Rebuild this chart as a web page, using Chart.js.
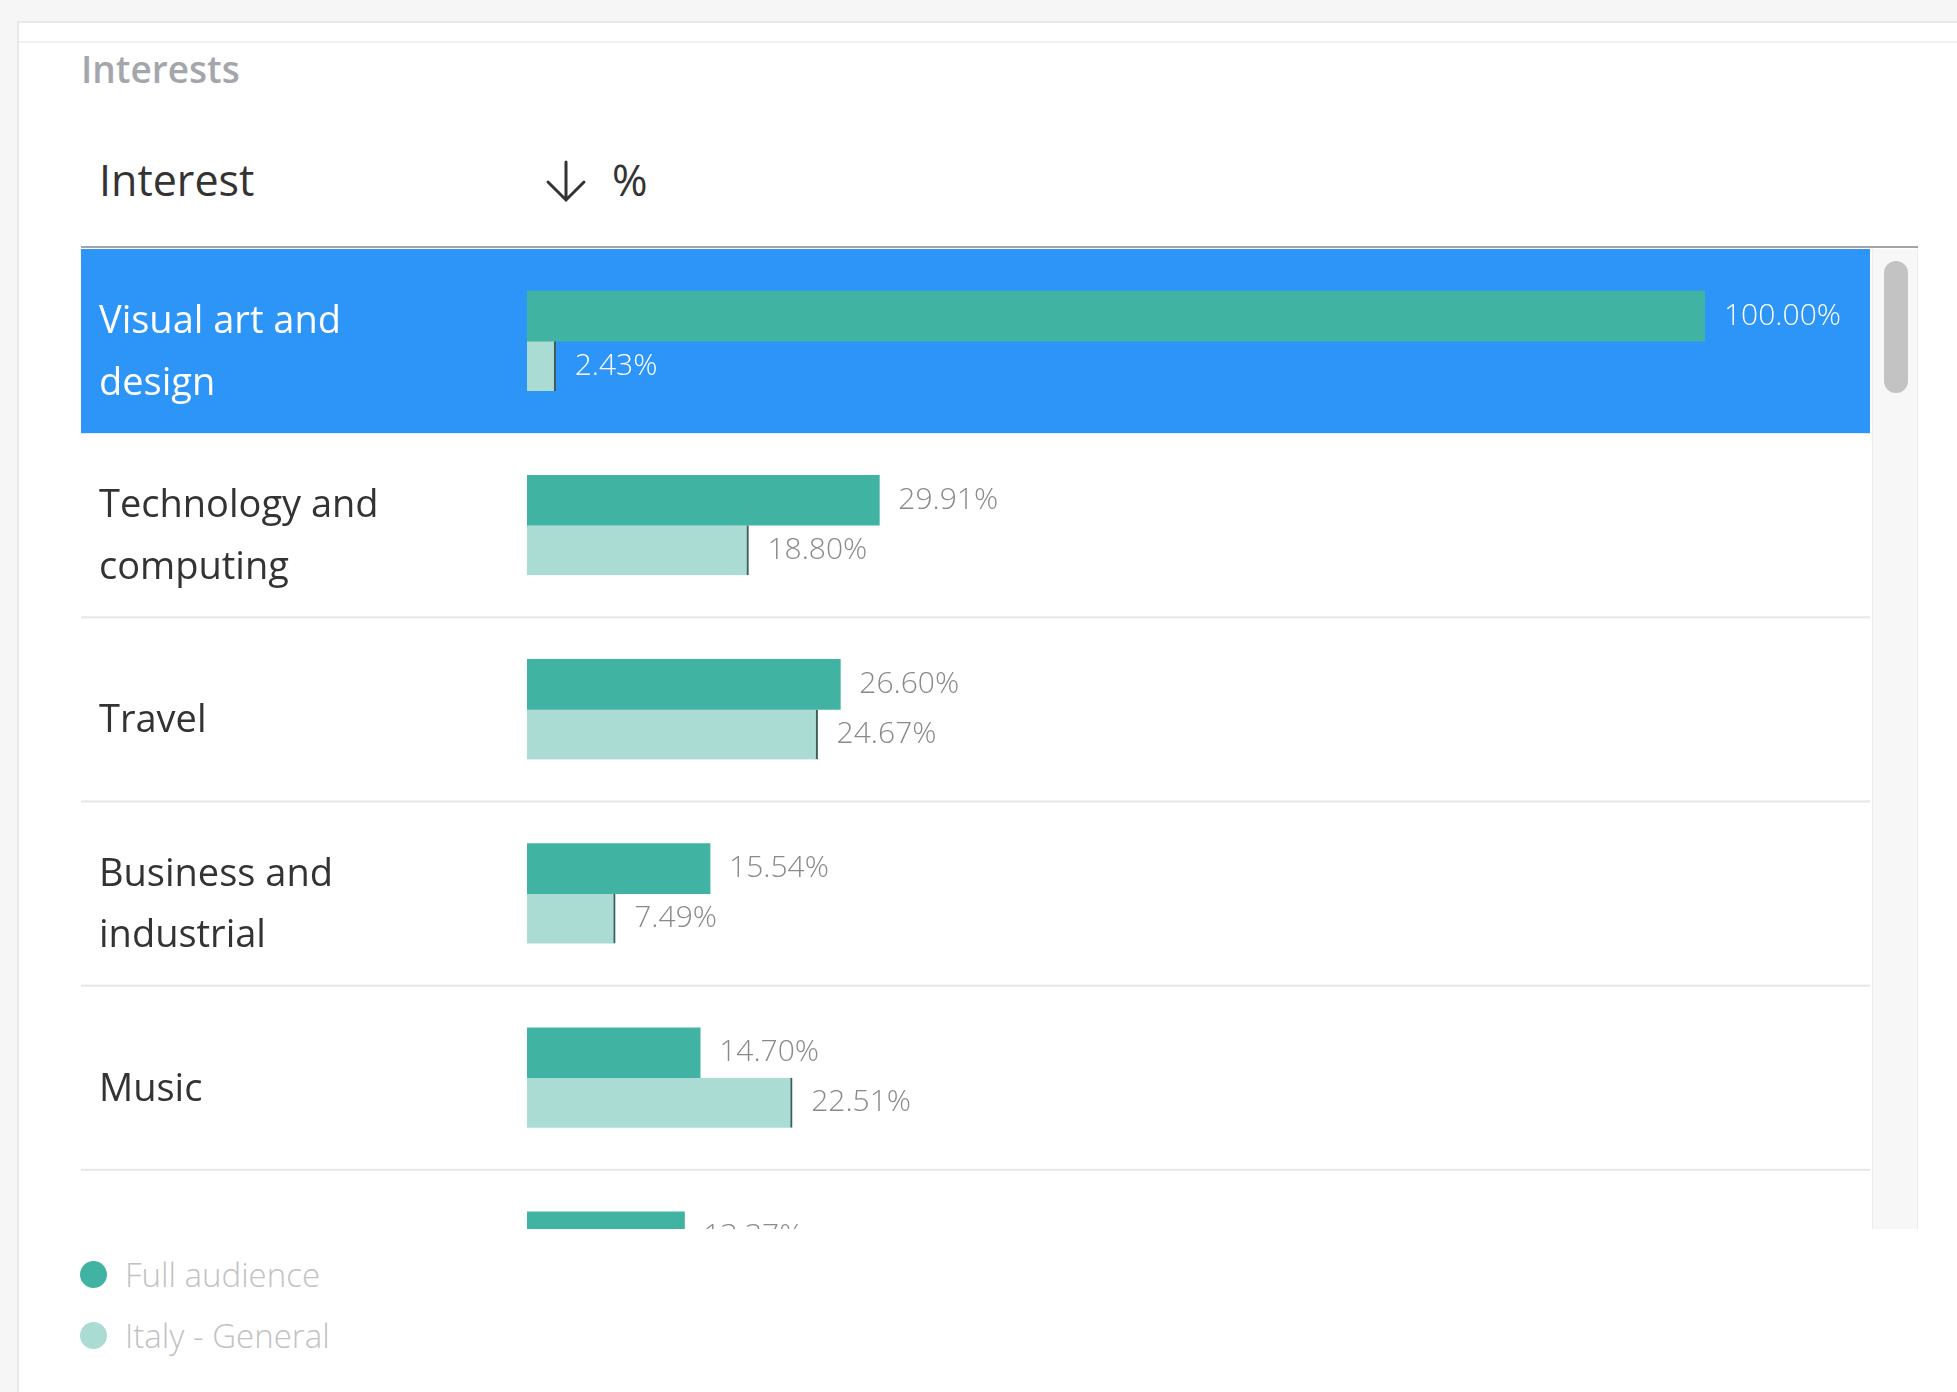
<!DOCTYPE html>
<html lang="en">
<head>
  <meta charset="utf-8" />
  <title>Interests</title>
  <script src="https://cdn.jsdelivr.net/npm/chart.js"></script>
  <style>
    html, body { margin: 0; padding: 0; }
    body {
      width: 1957px;
      height: 1392px;
      background: #f6f6f6;
      font-family: 'Open Sans', sans-serif;
      position: relative;
      overflow: hidden;
    }
    .card {
      position: absolute;
      left: 17px; top: 21px;
      width: 2000px; height: 1400px;
      background: #fff;
      border: 2px solid #e9e9e9;
    }
    .card-strip {
      position: absolute;
      left: 19px; right: 0; top: 41px;
      border-top: 2px solid #f1f1f1;
    }
    .title {
      position: absolute;
      left: 81px; top: 46px;
      font-size: 37px; line-height: 46px;
      font-weight: 600;
      color: #a3a7ab;
    }
    .head {
      position: absolute;
      top: 153px;
      font-size: 43px; line-height: 54px;
      color: #333;
    }
    .head-arrow { position: absolute; left: 543px; top: 158px; }
    .head-line {
      position: absolute;
      left: 81px; top: 246px;
      width: 1837px; height: 2px;
      background: #a4a4a4;
    }
    .table-view {
      position: absolute;
      left: 81px; top: 249px;
      width: 1789px; height: 980px;
      overflow: hidden;
    }
    .chart-box { position: relative; width: 1789px; height: 1105px; }
    .scroll-track {
      position: absolute;
      left: 1872px; top: 249px;
      width: 44px; height: 980px;
      background: #f7f7f7;
      border-left: 1px solid #ececec;
      border-right: 1px solid #ececec;
    }
    .scroll-thumb {
      position: absolute;
      left: 11px; top: 12px;
      width: 24px; height: 132px;
      border-radius: 12px;
      background: #c3c3c3;
    }
    .legend { position: absolute; left: 80px; top: 1244px; }
    .legend-item {
      display: flex; align-items: center;
      height: 61px;
      font-size: 33px; font-weight: 300;
      color: #c2c2c2;
    }
    .legend-dot {
      width: 27px; height: 27px;
      border-radius: 50%;
      margin-right: 18px;
    }
  </style>
</head>
<body>
  <div class="card"></div>
  <div class="card-strip"></div>
  <div class="title">Interests</div>
  <div class="head" style="left: 99px;">Interest</div>
  <svg class="head-arrow" width="46" height="46" viewBox="0 0 46 46" fill="none" stroke="#333" stroke-width="3" stroke-linecap="round">
    <path d="M23 4 L23 42 M5 24 L23 42 L41 24" />
  </svg>
  <div class="head" style="left: 612px;">%</div>
  <div class="head-line"></div>

  <div class="table-view">
    <div class="chart-box"><canvas id="interests-chart"></canvas></div>
  </div>
  <div class="scroll-track"><div class="scroll-thumb"></div></div>

  <div class="legend" id="legend"></div>

  <script>
    const categories = [
      ['Visual art and', 'design'],
      ['Technology and', 'computing'],
      ['Travel'],
      ['Business and', 'industrial'],
      ['Music'],
      ''
    ];
    const fullAudience = [100.00, 29.91, 26.60, 15.54, 14.70, 13.37];
    const italyGeneral = [2.43, 18.80, 24.67, 7.49, 22.51, null];
    const seriesNames = ['Full audience', 'Italy - General'];
    const seriesColors = ['#41b3a3', '#aadcd4'];

    const selectedRow = 0;

    // selected row background + thin separators between the other rows
    const rowBands = {
      id: 'rowBands',
      beforeDraw(chart) {
        const { ctx, scales: { y } } = chart;
        const band = (y.bottom - y.top) / categories.length;
        ctx.save();
        categories.forEach((_, i) => {
          const top = y.getPixelForValue(i) - band / 2;
          if (i === selectedRow) {
            ctx.fillStyle = '#2d95f7';
            ctx.fillRect(0, top, chart.width, band);
          } else if (i !== selectedRow + 1) {
            ctx.fillStyle = '#e6e6e6';
            ctx.fillRect(0, top - 1, chart.width, 2);
          }
        });
        ctx.restore();
      }
    };

    // percentage text right after each bar
    const valueLabels = {
      id: 'valueLabels',
      afterDatasetsDraw(chart) {
        const { ctx } = chart;
        ctx.save();
        ctx.font = '300 30px "Open Sans"';
        ctx.textBaseline = 'middle';
        chart.data.datasets.forEach((ds, di) => {
          chart.getDatasetMeta(di).data.forEach((bar, i) => {
            const v = ds.data[i];
            if (v == null) return;
            ctx.fillStyle = i === selectedRow ? '#ffffff' : '#8a8a8a';
            ctx.fillText(v.toFixed(2) + '%', bar.x + 19, bar.y);
          });
        });
        ctx.restore();
      }
    };

    new Chart(document.getElementById('interests-chart').getContext('2d'), {
      type: 'bar',
      data: {
        labels: categories,
        datasets: [{
          label: seriesNames[0],
          data: fullAudience,
          backgroundColor: seriesColors[0],
          borderWidth: 0
        }, {
          label: seriesNames[1],
          data: italyGeneral,
          backgroundColor: seriesColors[1],
          borderColor: '#3d5f5b',
          borderWidth: { top: 0, right: 2, bottom: 0, left: 0 },
          borderSkipped: false
        }]
      },
      options: {
        indexAxis: 'y',
        responsive: true,
        maintainAspectRatio: false,
        animation: false,
        barThickness: 50,
        layout: { padding: { left: 18, right: 165, top: 0, bottom: 0 } },
        scales: {
          x: { display: false, min: 0, max: 100 },
          y: {
            grid: { display: false },
            border: { display: false },
            afterFit(scale) {
              scale.width = 428;
              scale.paddingTop = 0;
              scale.paddingBottom = 0;
            },
            ticks: {
              autoSkip: false,
              crossAlign: 'far',
              labelOffset: 12,
              color: ctx => ctx.index === selectedRow ? '#ffffff' : '#333333',
              font: { family: 'Open Sans', size: 38, lineHeight: 1.62 }
            }
          }
        },
        plugins: {
          legend: { display: false },
          tooltip: { enabled: false }
        }
      },
      plugins: [rowBands, valueLabels]
    });

    // legend list under the table
    const legendEl = document.getElementById('legend');
    seriesNames.forEach((name, i) => {
      const item = document.createElement('div');
      item.className = 'legend-item';
      item.innerHTML = '<span class="legend-dot" style="background:' + seriesColors[i] + '"></span>' + name;
      legendEl.appendChild(item);
    });
  </script>
</body>
</html>
